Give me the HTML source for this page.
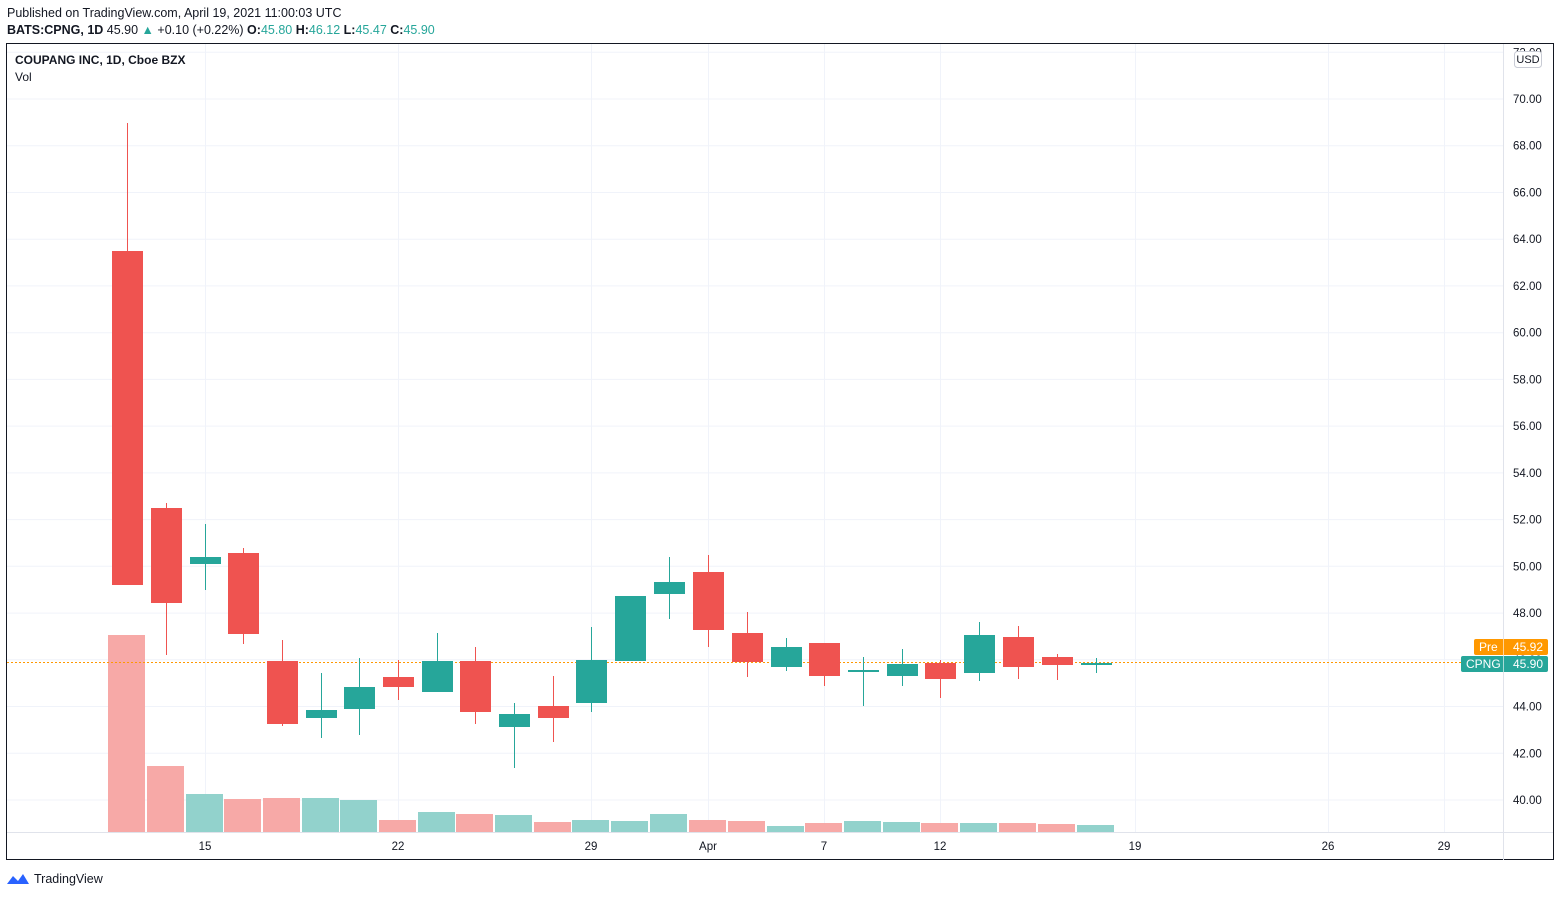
<!DOCTYPE html>
<html><head><style>
body{margin:0;background:#fff;width:1560px;height:897px;overflow:hidden;font-family:"Liberation Sans",sans-serif;}
</style></head><body>
<svg width="1560" height="897" xmlns="http://www.w3.org/2000/svg" font-family="Liberation Sans, sans-serif">
<rect width="1560" height="897" fill="#fff"/>
<text x="7" y="17" font-size="12.5" fill="#131722">Published on TradingView.com, April 19, 2021 11:00:03 UTC</text>
<text x="7" y="34" font-size="12.5" fill="#131722"><tspan font-weight="bold">BATS:CPNG, 1D</tspan> 45.90 <tspan fill="#26a69a">▲</tspan> +0.10 (+0.22%) <tspan font-weight="bold">O:</tspan><tspan fill="#26a69a">45.80</tspan> <tspan font-weight="bold">H:</tspan><tspan fill="#26a69a">46.12</tspan> <tspan font-weight="bold">L:</tspan><tspan fill="#26a69a">45.47</tspan> <tspan font-weight="bold">C:</tspan><tspan fill="#26a69a">45.90</tspan></text>
<g id="grid" stroke="#f0f3fa" stroke-width="1"></g>
<g id="vol"></g>
<line x1="7" y1="662.5" x2="1470" y2="662.5" stroke="#ff9800" stroke-dasharray="2,2"/>
<g id="candles"></g>
<rect x="6.5" y="43.5" width="1547" height="816" fill="none" stroke="#131722"/>
<line x1="1503.5" y1="44" x2="1503.5" y2="860" stroke="#e0e3eb"/>
<line x1="7" y1="832.5" x2="1553" y2="832.5" stroke="#e0e3eb"/>
<g id="labels" font-size="11.5" fill="#131722"></g>
<text x="15" y="64" font-size="12" font-weight="bold" fill="#131722">COUPANG INC, 1D, Cboe BZX</text>
<text x="15" y="81" font-size="12" fill="#131722">Vol</text>
<rect x="1514.5" y="51.5" width="27" height="16" rx="3" fill="#fff" stroke="#c8cbd4"/>
<text x="1528" y="63" font-size="11" fill="#131722" text-anchor="middle">USD</text>
<rect x="1474" y="639" width="74" height="16" rx="2" fill="#ff9800"/>
<text x="1479" y="651" font-size="12" fill="#fff">Pre</text><text x="1513" y="651" font-size="12" fill="#fff">45.92</text>
<line x1="1503.5" y1="639" x2="1503.5" y2="655" stroke="#fff" opacity=".6"/>
<rect x="1461" y="656" width="87" height="16" rx="2" fill="#26a69a"/>
<text x="1466" y="668" font-size="12" fill="#fff">CPNG</text><text x="1513" y="668" font-size="12" fill="#fff">45.90</text>
<line x1="1503.5" y1="656" x2="1503.5" y2="672" stroke="#fff" opacity=".6"/>
<path d="M7 884 l6 -8 l5 5 l5 -7 l6 10 z" fill="#2962ff"/>
<text x="34" y="883" font-size="12.5" fill="#131722">TradingView</text>
</svg>
<script>
const ns="http://www.w3.org/2000/svg";
function el(p,t,a,txt){const e=document.createElementNS(ns,t);for(const k in a)e.setAttribute(k,a[k]);if(txt!==undefined)e.textContent=txt;document.getElementById(p).appendChild(e);}
for(let p=40;p<=72;p+=2){const y=99+(70-p)*23.367;if(y<44)continue;el("grid","line",{x1:7,x2:1503,y1:y.toFixed(1),y2:y.toFixed(1)});el("labels","text",{x:1513,y:(y+4).toFixed(1)},p.toFixed(2));}
[[205,"15"],[398,"22"],[591,"29"],[708,"Apr"],[824,"7"],[940,"12"],[1135,"19"],[1328,"26"],[1444,"29"]].forEach(([x,t])=>{el("grid","line",{x1:x+.5,x2:x+.5,y1:44,y2:832});el("labels","text",{x:x,y:850,"text-anchor":"middle"},t);});
const C=[[127,251,585,123,585,0],[166,508,603,503,655,0],[205,557,564,524,590,1],[243,553,634,548,644,0],[282,661,724,640,726,0],[321,710,718,673,738,1],[359,687,709,658,735,1],[398,677,687,660,700,0],[437,661,692,633,692,1],[475,661,712,647,724,0],[514,714,727,703,768,1],[553,706,718,676,742,0],[591,660,703,627,712,1],[630,596,661,596,661,1],[669,582,594,557,619,1],[708,572,630,555,647,0],[747,633,662,612,677,0],[786,647,667,638,671,1],[824,643,676,643,686,0],[863,670,672,657,706,1],[902,664,676,649,686,1],[940,663,679,660,698,0],[979,635,673,622,681,1],[1018,637,667,626,679,0],[1057,657,665,654,680,0],[1096,663,665,658,673,1]];
const V=[635,766,794,799,798,798,800,820,812,814,815,822,820,821,814,820,821,826,823,821,822,823,823,823,824,825];
C.forEach((c,i)=>{const col=c[5]?"#26a69a":"#ef5350";const vc=c[5]?"#92d2cc":"#f7a9a7";
el("vol","rect",{x:c[0]-19,y:V[i],width:37,height:832-V[i],fill:vc});
el("candles","line",{x1:c[0]+.5,x2:c[0]+.5,y1:c[3],y2:c[4],stroke:col});
el("candles","rect",{x:c[0]-15,y:c[1],width:31,height:Math.max(2,c[2]-c[1]),fill:col});});
</script>
</body></html>
